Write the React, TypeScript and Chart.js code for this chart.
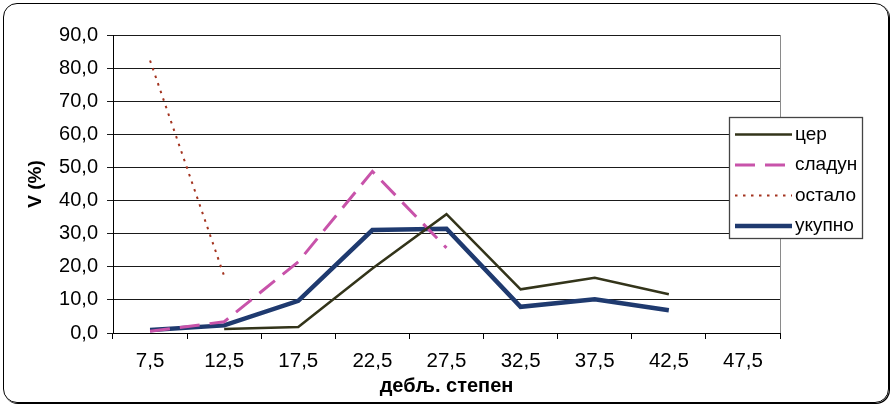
import { useEffect, useRef } from 'react';
import { Chart, registerables } from 'chart.js';

Chart.register(...registerables);

// Diameter classes (cm)
const categories = ['7,5', '12,5', '17,5', '22,5', '27,5', '32,5', '37,5', '42,5', '47,5'];

// Share of volume per diameter class, %
const cerValues = [null, 1.2, 1.8, 19.5, 35.9, 13.2, 16.7, 11.7, null];
const sladunValues = [0.5, 3.4, 21.5, 48.8, 25.7, null, null, null, null];
const ostaloValues = [82.3, 17.2, null, null, null, null, null, null, null];
const ukupnoValues = [0.9, 2.3, 9.7, 31.1, 31.5, 7.9, 10.2, 6.9, null];

const seriesNames = ['цер', 'сладун', 'остало', 'укупно'];

const yMin = 0;
const yMax = 90;
const yStep = 10;

const FONT = '"Liberation Sans", Arial, sans-serif';

const legendBox = { x: 729, y: 117, w: 133, h: 121, rowStart: 134.5, rowGap: 30.5, sampleX0: 735, sampleX1: 792, textX: 795 };

const framePlugin = {
  id: 'frame',
  beforeDatasetsDraw(chart: any) {
    const { ctx, chartArea } = chart;
    ctx.save();
    ctx.strokeStyle = '#8a8a8a';
    ctx.lineWidth = 1;
    ctx.beginPath();
    ctx.moveTo(Math.round(chartArea.right) + 0.5, chartArea.top);
    ctx.lineTo(Math.round(chartArea.right) + 0.5, chartArea.bottom);
    ctx.stroke();
    ctx.restore();
  },
  afterDraw(chart: any) {
    const { ctx } = chart;
    const b = legendBox;
    ctx.save();
    ctx.fillStyle = '#fff';
    ctx.fillRect(b.x, b.y, b.w, b.h);
    ctx.strokeStyle = '#444';
    ctx.lineWidth = 1.3;
    ctx.strokeRect(b.x + 0.5, b.y + 0.5, b.w, b.h);
    chart.data.datasets.forEach((ds: any, i: number) => {
      const y = b.rowStart + i * b.rowGap;
      ctx.save();
      ctx.strokeStyle = ds.borderColor;
      ctx.lineWidth = ds.borderWidth;
      ctx.setLineDash(ds.borderDash || []);
      ctx.beginPath();
      ctx.moveTo(b.sampleX0, y);
      ctx.lineTo(b.sampleX1, y);
      ctx.stroke();
      ctx.restore();
      ctx.fillStyle = '#000';
      ctx.font = `19px ${FONT}`;
      ctx.textBaseline = 'middle';
      ctx.textAlign = 'left';
      ctx.fillText(ds.label, b.textX, y);
    });
    ctx.restore();
  },
};

export default function App() {
  const canvasRef = useRef<HTMLCanvasElement | null>(null);

  useEffect(() => {
    const canvas = canvasRef.current;
    if (!canvas) return;
    const chart = new Chart(canvas, {
      type: 'line',
      data: {
        labels: categories,
        datasets: [
          {
            label: seriesNames[0],
            data: cerValues,
            borderColor: '#33341a',
            borderWidth: 2.5,
            pointRadius: 0,
            tension: 0,
          },
          {
            label: seriesNames[1],
            data: sladunValues,
            borderColor: '#c853aa',
            borderWidth: 3,
            borderDash: [20, 10],
            pointRadius: 0,
            tension: 0,
          },
          {
            label: seriesNames[2],
            data: ostaloValues,
            borderColor: '#a3331f',
            borderWidth: 2,
            borderDash: [2.5, 5.5],
            pointRadius: 0,
            tension: 0,
          },
          {
            label: seriesNames[3],
            data: ukupnoValues,
            borderColor: '#1f3a6f',
            borderWidth: 4.5,
            pointRadius: 0,
            tension: 0,
          },
        ],
      },
      options: {
        responsive: false,
        animation: false,
        events: [],
        layout: { padding: { left: 0, top: 35, right: 112, bottom: 0 } },
        plugins: {
          legend: { display: false },
          tooltip: { enabled: false },
        },
        scales: {
          x: {
            offset: true,
            grid: {
              offset: true,
              drawOnChartArea: false,
              drawTicks: true,
              tickLength: 6,
              color: '#000',
            },
            border: { color: '#000', width: 1 },
            ticks: {
              color: '#000',
              font: { family: FONT, size: 20.5 },
              padding: 10,
              maxRotation: 0,
              autoSkip: false,
            },
            title: {
              display: true,
              text: 'дебљ. степен',
              color: '#000',
              font: { family: FONT, size: 20, weight: 'bold' },
              padding: { top: 0, bottom: 8 },
            },
            afterFit(scale: any) {
              scale.height = 73;
            },
          },
          y: {
            min: yMin,
            max: yMax,
            grid: {
              color: '#1a1a1a',
              lineWidth: 1,
              tickLength: 6,
            },
            border: { color: '#000', width: 1 },
            ticks: {
              stepSize: yStep,
              color: '#000',
              font: { family: FONT, size: 20 },
              padding: 9,
              callback: (v: any) => Number(v).toFixed(1).replace('.', ','),
            },
            title: {
              display: true,
              text: 'V (%)',
              color: '#000',
              font: { family: FONT, size: 19, weight: 'bold' },
              padding: { top: 24, bottom: 0 },
            },
            afterFit(scale: any) {
              scale.width = 113;
            },
          },
        },
      },
      plugins: [framePlugin],
    } as any);
    return () => chart.destroy();
  }, []);

  return (
    <div style={{ position: 'fixed', left: 0, top: 0, width: 892, height: 406, background: '#fff' }}>
      <canvas ref={canvasRef} width={892} height={406} style={{ display: 'block', width: 892, height: 406 }} />
      <div
        style={{
          position: 'absolute',
          left: 3,
          top: 3,
          width: 886,
          height: 400,
          boxSizing: 'border-box',
          border: '1.5px solid #000',
          borderRadius: 14,
          boxShadow: '1px 1px 0 0 #000',
          pointerEvents: 'none',
        }}
      />
    </div>
  );
}
